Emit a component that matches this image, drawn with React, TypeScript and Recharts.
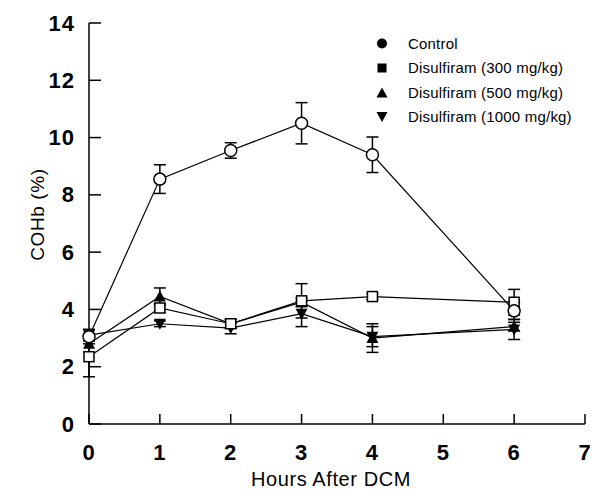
import React from 'react';
import { LineChart, Line, XAxis, YAxis, ErrorBar, Legend } from 'recharts';

const hours = [0, 1, 2, 3, 4, 6];
const controlVals = [3.05, 8.55, 9.55, 10.5, 9.4, 3.95];
const controlErr = [0.25, 0.5, 0.27, 0.72, 0.62, 0.3];
const d300Vals = [2.35, 4.05, 3.5, 4.3, 4.45, 4.25];
const d300Err = [0.7, 0.15, 0.15, 0.6, 0.1, 0.45];
const d500Vals = [2.8, 4.45, 3.5, 4.25, 3.0, 3.4];
const d500Err = [0.3, 0.3, 0.15, 0.15, 0.5, 0.15];
const d1000Vals = [3.1, 3.5, 3.35, 3.85, 3.05, 3.3];
const d1000Err = [0.2, 0.1, 0.2, 0.45, 0.35, 0.35];

const xTicks = [0, 1, 2, 3, 4, 5, 6, 7];
const yTicks = [0, 2, 4, 6, 8, 10, 12, 14];
const legendLabels = ['Control', 'Disulfiram (300 mg/kg)', 'Disulfiram (500 mg/kg)', 'Disulfiram (1000 mg/kg)'];

const data = hours.map((h, i) => ({
  hour: h,
  control: controlVals[i],
  controlErr: controlErr[i],
  d300: d300Vals[i],
  d300Err: d300Err[i],
  d500: d500Vals[i],
  d500Err: d500Err[i],
  d1000: d1000Vals[i],
  d1000Err: d1000Err[i],
}));

const FONT = '"Liberation Sans", Arial, Helvetica, sans-serif';

const OpenCircle = (p: any) => <circle key={p.key} cx={p.cx} cy={p.cy} r={6} fill="#fff" stroke="#000" strokeWidth={1.5} />;
const OpenSquare = (p: any) => <rect key={p.key} x={p.cx - 5} y={p.cy - 5} width={10} height={10} fill="#fff" stroke="#000" strokeWidth={1.5} />;
const UpTri = (p: any) => <path key={p.key} d={`M${p.cx},${p.cy - 6} L${p.cx + 6},${p.cy + 5} L${p.cx - 6},${p.cy + 5} Z`} fill="#000" />;
const DownTri = (p: any) => <path key={p.key} d={`M${p.cx},${p.cy + 6} L${p.cx + 6},${p.cy - 5} L${p.cx - 6},${p.cy - 5} Z`} fill="#000" />;

const legendIcons = [
  (cx: number, cy: number) => <circle cx={cx} cy={cy} r={5} fill="#000" />,
  (cx: number, cy: number) => <rect x={cx - 4.5} y={cy - 4.5} width={9} height={9} fill="#000" />,
  (cx: number, cy: number) => <path d={`M${cx},${cy - 5} L${cx + 5.5},${cy + 5} L${cx - 5.5},${cy + 5} Z`} fill="#000" />,
  (cx: number, cy: number) => <path d={`M${cx},${cy + 5} L${cx + 5.5},${cy - 5} L${cx - 5.5},${cy - 5} Z`} fill="#000" />,
];

const LegendContent = () => (
  <svg width={215} height={100} style={{ display: 'block' }}>
    {legendLabels.map((lab, i) => {
      const cy = 10.5 + i * 24.5;
      return (
        <g key={lab}>
          {legendIcons[i](7, cy)}
          <text x={33} y={cy + 5} fontFamily={FONT} fontSize={15} fill="#000" letterSpacing={0.2}>{lab}</text>
        </g>
      );
    })}
  </svg>
);

const YLabel = (props: any) => {
  const vb = props.viewBox;
  const x = vb.x + 37;
  const y = vb.y + vb.height / 2 - 9;
  return (
    <text x={x} y={y} transform={`rotate(-90 ${x} ${y})`} textAnchor="middle" dominantBaseline="central" fontFamily={FONT} fontSize={19} letterSpacing={0.6} fill="#000">
      COHb (%)
    </text>
  );
};

const XLabel = (props: any) => {
  const vb = props.viewBox;
  return (
    <text x={vb.x + vb.width / 2 - 6} y={vb.y + 62} textAnchor="middle" fontFamily={FONT} fontSize={20} letterSpacing={0.6} fill="#000">
      Hours After DCM
    </text>
  );
};

const Y_MARGIN = 14;
const X_MARGIN = 19;
const TICK_LEN_Y = 12;
const TICK_LEN_X = 10;

const YTick = (props: any) => {
  const { x, y, payload } = props;
  return (
    <g>
      <line x1={x + Y_MARGIN} x2={x + Y_MARGIN + TICK_LEN_Y} y1={y} y2={y} stroke="#000" strokeWidth={1.5} />
      <text x={x} y={y} textAnchor="end" dominantBaseline="central" fill="#000" fontSize={22} fontWeight="bold" fontFamily={FONT} letterSpacing={1}>
        {payload.value}
      </text>
    </g>
  );
};

const XTick = (props: any) => {
  const { x, y, payload } = props;
  return (
    <g>
      <line x1={x} x2={x} y1={y - X_MARGIN} y2={y - X_MARGIN - TICK_LEN_X} stroke="#000" strokeWidth={1.5} />
      <text x={x} y={y} dy="0.75em" textAnchor="middle" fill="#000" fontSize={22} fontWeight="bold" fontFamily={FONT} letterSpacing={1}>
        {payload.value}
      </text>
    </g>
  );
};

export default function App() {
  return (
    <div style={{ position: 'absolute', left: 0, top: 0, width: 592, height: 499, background: '#fff' }}>
      <LineChart width={592} height={499} data={data} margin={{ top: 23, right: 7, bottom: 0, left: 0 }}>
        <XAxis
          dataKey="hour"
          type="number"
          domain={[0, 7]}
          ticks={xTicks}
          tickSize={0}
          tickMargin={X_MARGIN}
          height={75}
          tickLine={false}
          axisLine={{ stroke: '#000', strokeWidth: 1.5 }}
          tick={<XTick />}
          label={<XLabel />}
          interval={0}
        />
        <XAxis xAxisId="top" orientation="top" type="number" domain={[0, 7]} height={0} tick={false} tickLine={false} axisLine={{ stroke: '#000', strokeWidth: 1.5 }} />
        <YAxis
          type="number"
          domain={[0, 14]}
          ticks={yTicks}
          tickSize={0}
          tickMargin={Y_MARGIN}
          width={89}
          tickLine={false}
          axisLine={{ stroke: '#000', strokeWidth: 1.5 }}
          tick={<YTick />}
          label={<YLabel />}
          interval={0}
        />
        <YAxis yAxisId="right" orientation="right" type="number" domain={[0, 14]} width={0} tick={false} tickLine={false} axisLine={{ stroke: '#000', strokeWidth: 1.5 }} />
        <Legend
          layout="vertical"
          align="center"
          verticalAlign="middle"
          content={<LegendContent />}
          wrapperStyle={{ position: 'absolute', left: 375, top: 33, width: 215, height: 100 }}
        />
        <Line dataKey="d1000" name={legendLabels[3]} stroke="#000" strokeWidth={1.2} dot={DownTri} activeDot={false} isAnimationActive={false}>
          <ErrorBar dataKey="d1000Err" width={6} stroke="#000" strokeWidth={1.5} direction="y" />
        </Line>
        <Line dataKey="d500" name={legendLabels[2]} stroke="#000" strokeWidth={1.2} dot={UpTri} activeDot={false} isAnimationActive={false}>
          <ErrorBar dataKey="d500Err" width={6} stroke="#000" strokeWidth={1.5} direction="y" />
        </Line>
        <Line dataKey="d300" name={legendLabels[1]} stroke="#000" strokeWidth={1.2} dot={OpenSquare} activeDot={false} isAnimationActive={false}>
          <ErrorBar dataKey="d300Err" width={6} stroke="#000" strokeWidth={1.5} direction="y" />
        </Line>
        <Line dataKey="control" name={legendLabels[0]} stroke="#000" strokeWidth={1.2} dot={OpenCircle} activeDot={false} isAnimationActive={false}>
          <ErrorBar dataKey="controlErr" width={6} stroke="#000" strokeWidth={1.5} direction="y" />
        </Line>
      </LineChart>
    </div>
  );
}
